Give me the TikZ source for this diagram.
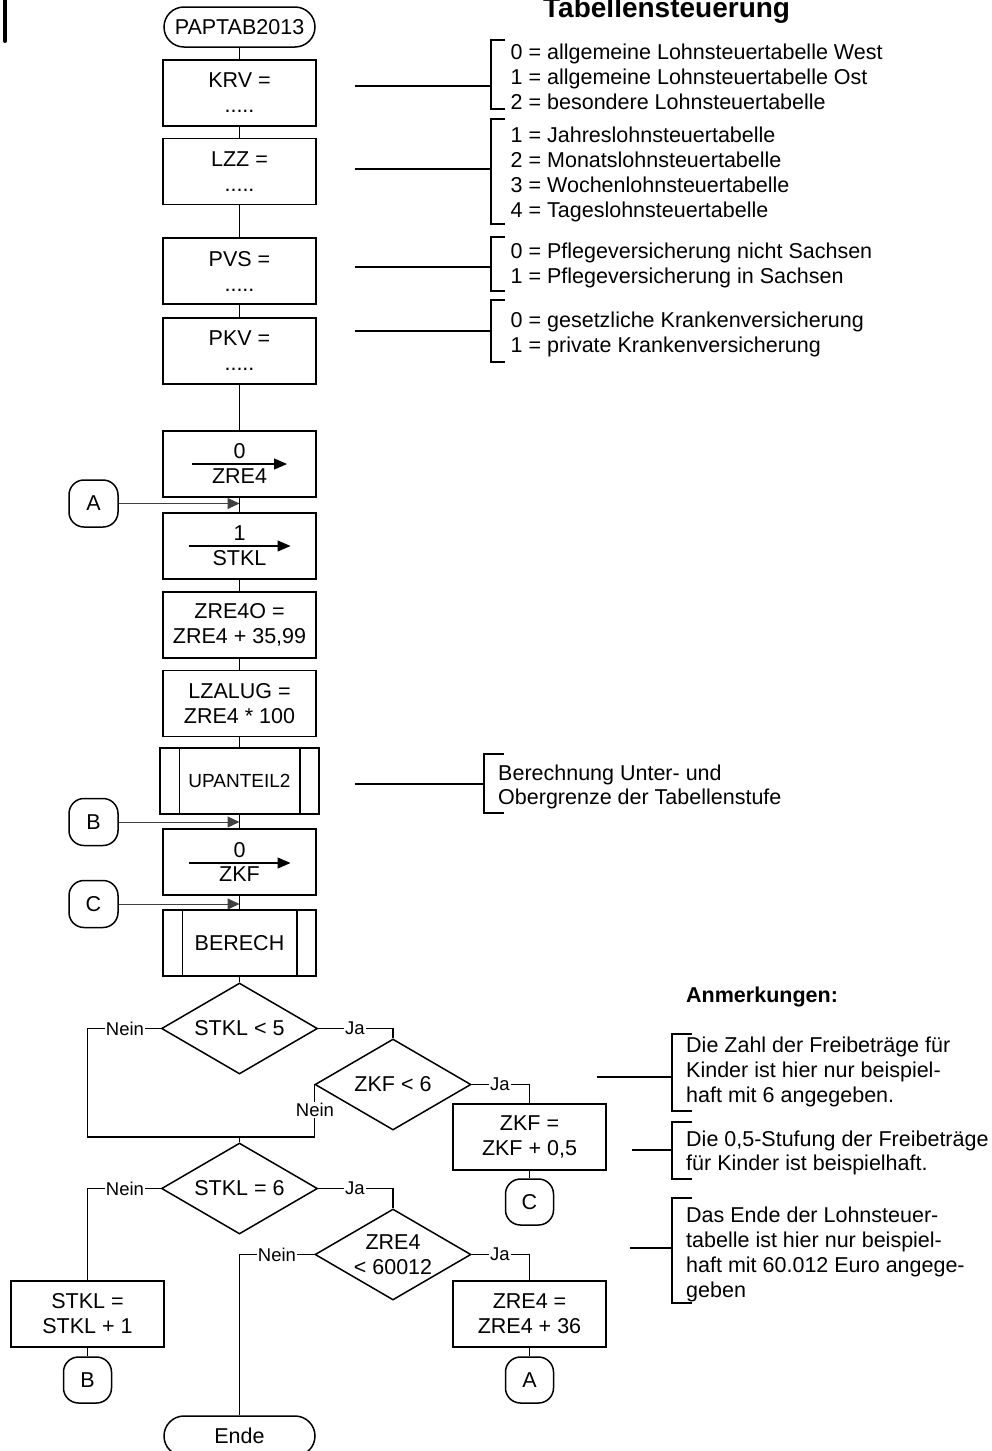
\documentclass[tikz,border=0pt]{standalone}
\usepackage{fontspec}
\setmainfont{Liberation Sans}
\usetikzlibrary{shapes.geometric,arrows.meta}
\tikzset{
  txt/.style={font=\fontsize{21.5pt}{25pt}\selectfont},
  box/.style={draw, line width=1.5pt, minimum width=153pt, minimum height=66pt, inner sep=0pt, align=center, txt},
  subbox/.style={box, minimum width=159pt},
  term/.style={draw, line width=1.5pt, rounded corners=20pt, minimum width=151pt, minimum height=40pt, inner sep=0pt, txt},
  conn/.style={draw, line width=1.5pt, rounded corners=15pt, minimum width=49pt, minimum height=47pt, inner sep=0pt, txt},
  conn2/.style={conn, minimum width=48pt, minimum height=46pt},
  dec/.style={draw, shape=diamond, aspect=1.7, line width=1.5pt, minimum width=156pt, minimum height=91pt, inner sep=0pt, align=center, txt},
  flow/.style={line width=1.5pt},
  lbl/.style={fill=white, inner sep=1pt, font=\fontsize{18.5pt}{20pt}\selectfont},
  entry/.style={line width=1pt, black!75, -{Triangle[length=12pt,width=11pt]}},
  assign/.style={line width=1.2pt, -{Triangle[length=13pt,width=11pt]}},
  note/.style={anchor=base west, inner sep=0pt, txt},
  brk/.style={line width=1.5pt},
}
\begin{document}
\begin{tikzpicture}[x=1pt,y=-1pt]
\useasboundingbox (0,0) rectangle (992,1451);
% bar top left
\draw[line width=4pt, line cap=round] (5.3,-3) -- (5.3,41);
% title
\node[anchor=base west, inner sep=0pt, font=\bfseries\fontsize{28pt}{30pt}\selectfont] (title) at (543,17) {Tabellensteuerung};

% main column
\node[term] (start) at (239.5,27) {PAPTAB2013};
\node[box] (krv) at (239.5,93) {KRV =\\.....};
\node[box] (lzz) at (239.5,171.5) {LZZ =\\.....};
\node[box] (pvs) at (239.5,271) {PVS =\\.....};
\node[box] (pkv) at (239.5,351) {PKV =\\.....};
\node[box] (z1) at (239.5,464) {};
\node[box] (z2) at (239.5,546) {};
\node[box] (zre4o) at (239.5,625) {ZRE4O =\\ZRE4 + 35,99};
\node[box] (lzalug) at (239.5,703.5) {LZALUG =\\ZRE4 * 100};
\node[subbox] (upa) at (239.5,781) {\fontsize{19pt}{22pt}\selectfont UPANTEIL2};
\node[box] (zkf) at (239.5,862) {};
\node[box] (ber) at (239.5,943) {BERECH};
\node[dec] (d1) at (239.5,1028.5) {STKL < 5};
\node[dec] (d2) at (393,1084.5) {ZKF < 6};
\node[dec] (d3) at (239.5,1188.5) {STKL = 6};
\node[dec] (d4) at (393,1254.5) {ZRE4\\< 60012};
\node[box] (zkfi) at (529.5,1137) {ZKF =\\ZKF + 0,5};
\node[box] (stkli) at (87.5,1314) {STKL =\\STKL + 1};
\node[box] (zrei) at (529.5,1314) {ZRE4 =\\ZRE4 + 36};
\node[conn] (ca) at (93.5,503.5) {A};
\node[conn] (cb) at (93.5,822) {B};
\node[conn] (cc) at (93.5,904) {C};
\node[conn2] (cc2) at (529.5,1202) {C};
\node[conn2] (cb2) at (87.5,1380) {B};
\node[conn2] (ca2) at (529.5,1380) {A};
\node[term] (ende) at (239.5,1436) {Ende};

% subroutine inner lines
\draw[flow] ([xshift=20pt]upa.north west) -- ([xshift=20pt]upa.south west);
\draw[flow] ([xshift=-20pt]upa.north east) -- ([xshift=-20pt]upa.south east);
\draw[flow] ([xshift=20pt]ber.north west) -- ([xshift=20pt]ber.south west);
\draw[flow] ([xshift=-20pt]ber.north east) -- ([xshift=-20pt]ber.south east);

% assignment boxes
\draw[assign] ([xshift=-47.5pt]z1.center) -- ([xshift=47.5pt]z1.center);
\node[txt, anchor=base, inner sep=0pt] (z1a) at ([yshift=6pt]z1.center) {0};
\node[txt, anchor=base, inner sep=0pt] (z1b) at ([yshift=-19pt]z1.center) {ZRE4};
\draw[assign] ([xshift=-51pt]z2.center) -- ([xshift=51pt]z2.center);
\node[txt, anchor=base, inner sep=0pt] (z2a) at ([yshift=6pt]z2.center) {1};
\node[txt, anchor=base, inner sep=0pt] (z2b) at ([yshift=-19pt]z2.center) {STKL};
\draw[assign] ([xshift=-51pt,yshift=-1pt]zkf.center) -- ([xshift=51pt,yshift=-1pt]zkf.center);
\node[txt, anchor=base, inner sep=0pt] (zka) at ([yshift=5pt]zkf.center) {0};
\node[txt, anchor=base, inner sep=0pt] (zkb) at ([yshift=-19pt]zkf.center) {ZKF};

% main flow
\draw[flow] (start) -- (krv);
\draw[flow] (krv) -- (lzz);
\draw[flow] (lzz) -- (pvs);
\draw[flow] (pvs) -- (pkv);
\draw[flow] (pkv) -- (z1);
\draw[flow] (z1) -- (z2);
\draw[flow] (z2) -- (zre4o);
\draw[flow] (zre4o) -- (lzalug);
\draw[flow] (lzalug) -- (upa);
\draw[flow] (upa) -- (zkf);
\draw[flow] (zkf) -- (ber);
\draw[flow] (ber) -- (d1);

% entry arrows
\draw[entry] (ca.east) -- (ca.east -| z1.center);
\draw[entry] (cb.east) -- (cb.east -| zkf.center);
\draw[entry] (cc.east) -- (cc.east -| zkf.center);

% decisions
\coordinate (m) at (239.5,1137);
\draw[flow] (d1.west) -| (87.5,1137) -- (d2.west |- m) -- (d2.west);
\draw[flow] (m) -- (d3.north);
\draw[flow] (d1.east) -| (d2.north);
\draw[flow] (d2.east) -| (zkfi.north);
\draw[flow] (zkfi) -- (cc2);
\draw[flow] (d3.west) -| (stkli.north);
\draw[flow] (stkli) -- (cb2);
\draw[flow] (d3.east) -| (d4.north);
\draw[flow] (d4.east) -| (zrei.north);
\draw[flow] (zrei) -- (ca2);
\draw[flow] (d4.west) -| (ende.north);

\node[lbl] (l1) at (125,1028.5) {Nein};
\node[lbl] (l2) at (355,1028.5) {Ja};
\node[lbl] (l3) at (500,1084.5) {Ja};
\node[lbl] (l4) at (315,1110) {Nein};
\node[lbl] (l5) at (125,1188.5) {Nein};
\node[lbl] (l6) at (355,1188.5) {Ja};
\node[lbl] (l7) at (500,1254.5) {Ja};
\node[lbl] (l8) at (277,1254.5) {Nein};

% annotations top
\coordinate (a1) at (355,86);
\draw[brk] (a1) -- (491,86);
\draw[brk] (505,40) -- (491,40) -- (491,109) -- (505,109);
\node[note] (t11) at (510.5,59) {0 = allgemeine Lohnsteuertabelle West};
\node[note] (t12) at (510.5,84) {1 = allgemeine Lohnsteuertabelle Ost};
\node[note] (t13) at (510.5,109) {2 = besondere Lohnsteuertabelle};

\coordinate (a2) at (355,169);
\draw[brk] (a2) -- (491,169);
\draw[brk] (505,119) -- (491,119) -- (491,224) -- (505,224);
\node[note] (t21) at (510.5,142) {1 = Jahreslohnsteuertabelle};
\node[note] (t22) at (510.5,167) {2 = Monatslohnsteuertabelle};
\node[note] (t23) at (510.5,192) {3 = Wochenlohnsteuertabelle};
\node[note] (t24) at (510.5,217) {4 = Tageslohnsteuertabelle};

\coordinate (a3) at (355,267);
\draw[brk] (a3) -- (491,267);
\draw[brk] (505,237) -- (491,237) -- (491,291) -- (505,291);
\node[note] (t31) at (510.5,258) {0 = Pflegeversicherung nicht Sachsen};
\node[note] (t32) at (510.5,283) {1 = Pflegeversicherung in Sachsen};

\coordinate (a4) at (355,331);
\draw[brk] (a4) -- (491,331);
\draw[brk] (505,300) -- (491,300) -- (491,362) -- (505,362);
\node[note] (t41) at (510.5,327) {0 = gesetzliche Krankenversicherung};
\node[note] (t42) at (510.5,352) {1 = private Krankenversicherung};

\coordinate (a5) at (355,784);
\draw[brk] (a5) -- (484,784);
\draw[brk] (504,754) -- (484,754) -- (484,813) -- (504,813);
\node[note] (t51) at (498,780) {Berechnung Unter- und};
\node[note] (t52) at (498,804) {Obergrenze der Tabellenstufe};

% annotations bottom
\node[anchor=base west, inner sep=0pt, font=\bfseries\fontsize{21.5pt}{25pt}\selectfont] (anm) at (686,1002) {Anmerkungen:};

\coordinate (b1) at (597,1077);
\draw[brk] (b1) -- (672,1077);
\draw[brk] (692,1034) -- (672,1034) -- (672,1111) -- (692,1111);
\node[note] (u11) at (686,1052) {Die Zahl der Freibeträge für};
\node[note] (u12) at (686,1077) {Kinder ist hier nur beispiel-};
\node[note] (u13) at (686,1102) {haft mit 6 angegeben.};

\coordinate (b2) at (632,1150);
\draw[brk] (b2) -- (672,1150);
\draw[brk] (692,1122) -- (672,1122) -- (672,1179) -- (692,1179);
\node[note] (u21) at (686,1146) {Die 0,5-Stufung der Freibeträge};
\node[note] (u22) at (686,1170) {für Kinder ist beispielhaft.};

\coordinate (b3) at (630,1248);
\draw[brk] (b3) -- (672,1248);
\draw[brk] (692,1198) -- (672,1198) -- (672,1303) -- (692,1303);
\node[note] (u31) at (686,1222) {Das Ende der Lohnsteuer-};
\node[note] (u32) at (686,1247) {tabelle ist hier nur beispiel-};
\node[note] (u33) at (686,1272) {haft mit 60.012 Euro angege-};
\node[note] (u34) at (686,1297) {geben};
\end{tikzpicture}
\end{document}
